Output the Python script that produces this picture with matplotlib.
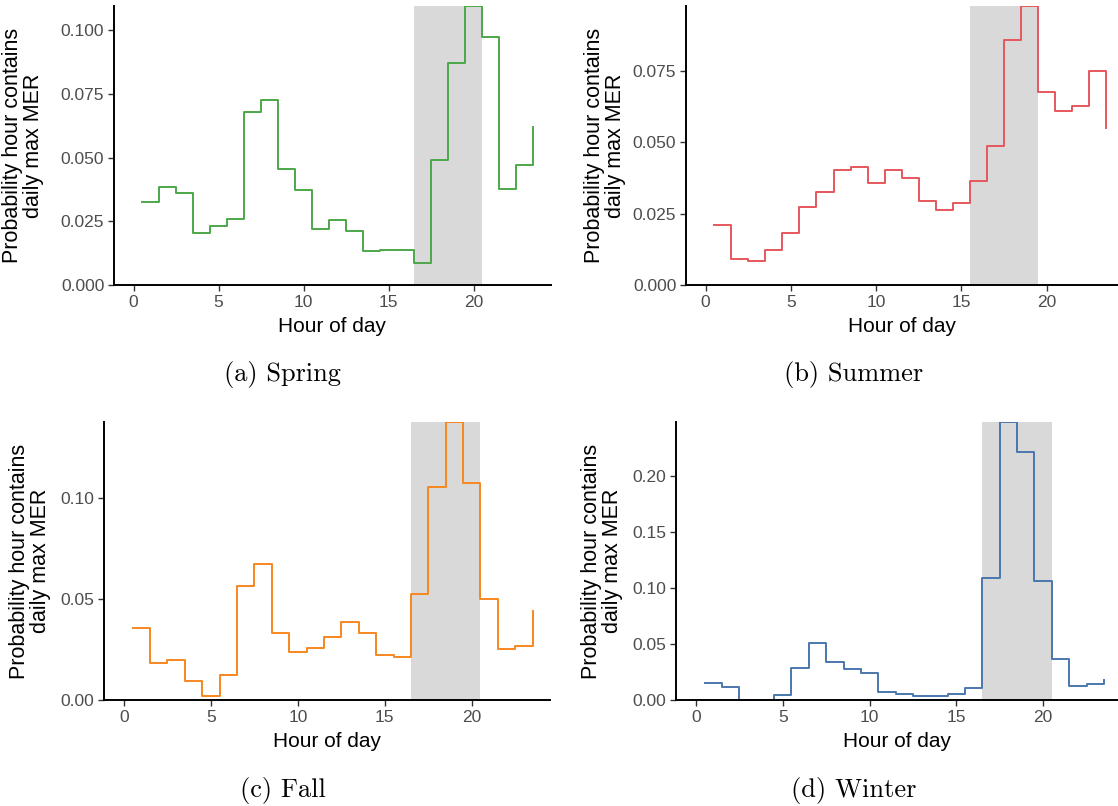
import numpy as np
import matplotlib
matplotlib.use("Agg")
import matplotlib.pyplot as plt
from matplotlib.ticker import FixedLocator, FormatStrFormatter

# hour of day (each value drawn as a step from hour+0.5)
hours = np.arange(24)

spring = [0.0325, 0.0383, 0.0360, 0.0203, 0.0232, 0.0258, 0.0679, 0.0726,
          0.0455, 0.0373, 0.0221, 0.0256, 0.0212, 0.0132, 0.0139, 0.0136,
          0.0085, 0.0489, 0.0870, 0.1095, 0.0972, 0.0376, 0.0471, 0.0621]
summer = [0.0210, 0.0090, 0.0085, 0.0123, 0.0181, 0.0272, 0.0327, 0.0403,
          0.0414, 0.0359, 0.0402, 0.0376, 0.0295, 0.0262, 0.0286, 0.0365,
          0.0486, 0.0860, 0.0978, 0.0676, 0.0610, 0.0628, 0.0750, 0.0552]
fall = [0.0357, 0.0184, 0.0198, 0.0094, 0.0020, 0.0125, 0.0563, 0.0674,
        0.0331, 0.0237, 0.0255, 0.0313, 0.0385, 0.0333, 0.0222, 0.0211,
        0.0522, 0.1052, 0.1374, 0.1072, 0.0499, 0.0254, 0.0268, 0.0441]
winter = [0.0152, 0.0113, 0.0, 0.0, 0.0042, 0.0290, 0.0513, 0.0340,
          0.0281, 0.0242, 0.0069, 0.0054, 0.0036, 0.0036, 0.0051, 0.0110,
          0.1090, 0.2487, 0.2215, 0.1066, 0.0367, 0.0125, 0.0143, 0.0182]

# shaded peak windows (hours)
peaks = {"spring": (16.5, 20.5), "summer": (15.5, 19.5),
         "fall": (16.5, 20.5), "winter": (16.5, 20.5)}

captions = ["(a) Spring", "(b) Summer", "(c) Fall", "(d) Winter"]

plt.rcParams["font.family"] = ["Liberation Sans", "DejaVu Sans"]

W, H = 1118, 806
fig = plt.figure(figsize=(W / 100, H / 100), dpi=100)


def px_axes(l, r, t, b):
    return fig.add_axes([l / W, 1 - b / H, (r - l) / W, (b - t) / H])


panels = [
    # values, peak, color, yticks, fmt, box (l, r, t, b), xmax, label x, caption x
    (spring, peaks["spring"], "#4DA74A", [0, 0.025, 0.05, 0.075, 0.1], "%.3f",
     (114, 551, 6, 285), 24.53, -0.161, 282),
    (summer, peaks["summer"], "#E6575B", [0, 0.025, 0.05, 0.075], "%.3f",
     (686, 1118, 6, 285), 24.18, -0.14, 854),
    (fall, peaks["fall"], "#F7871F", [0, 0.05, 0.1], "%.2f",
     (104, 550, 422, 700), 24.5, -0.119, 283),
    (winter, peaks["winter"], "#4A77AD", [0, 0.05, 0.1, 0.15, 0.2], "%.2f",
     (676, 1118, 422, 700), 24.31, -0.12, 854),
]

for (vals, peak, col, yt, fmt, box, xmax, lx, cx), cap in zip(panels, captions):
    ax = px_axes(*box)
    ax.axvspan(peak[0], peak[1], color="#D9D9D9", lw=0, zorder=0)
    ax.step(hours + 0.5, vals, where="post", color=col, lw=1.4, zorder=2)
    ax.set_xlim(-1.15, xmax)
    ax.set_ylim(0, max(vals))
    ax.xaxis.set_major_locator(FixedLocator([0, 5, 10, 15, 20]))
    ax.yaxis.set_major_locator(FixedLocator(yt))
    ax.yaxis.set_major_formatter(FormatStrFormatter(fmt))
    for s in ["top", "right"]:
        ax.spines[s].set_visible(False)
    for s in ["left", "bottom"]:
        ax.spines[s].set_linewidth(1.4)
        ax.spines[s].set_color("black")
    ax.tick_params(length=4, width=1.0, color="#333333", labelsize=12.5,
                   labelcolor="#4D4D4D", pad=3)
    ax.set_xlabel("Hour of day", fontsize=15, labelpad=5)
    ax.set_ylabel("Probability hour contains\ndaily max MER", fontsize=15.5,
                  linespacing=1.0)
    ax.yaxis.set_label_coords(lx, 0.5)
    l, r, t, b = box
    fig.text(cx / W, 1 - (b + 90) / H, cap, family="cmr10",
             fontsize=19, ha="center", va="center")

fig.savefig("out.png", dpi=100)
